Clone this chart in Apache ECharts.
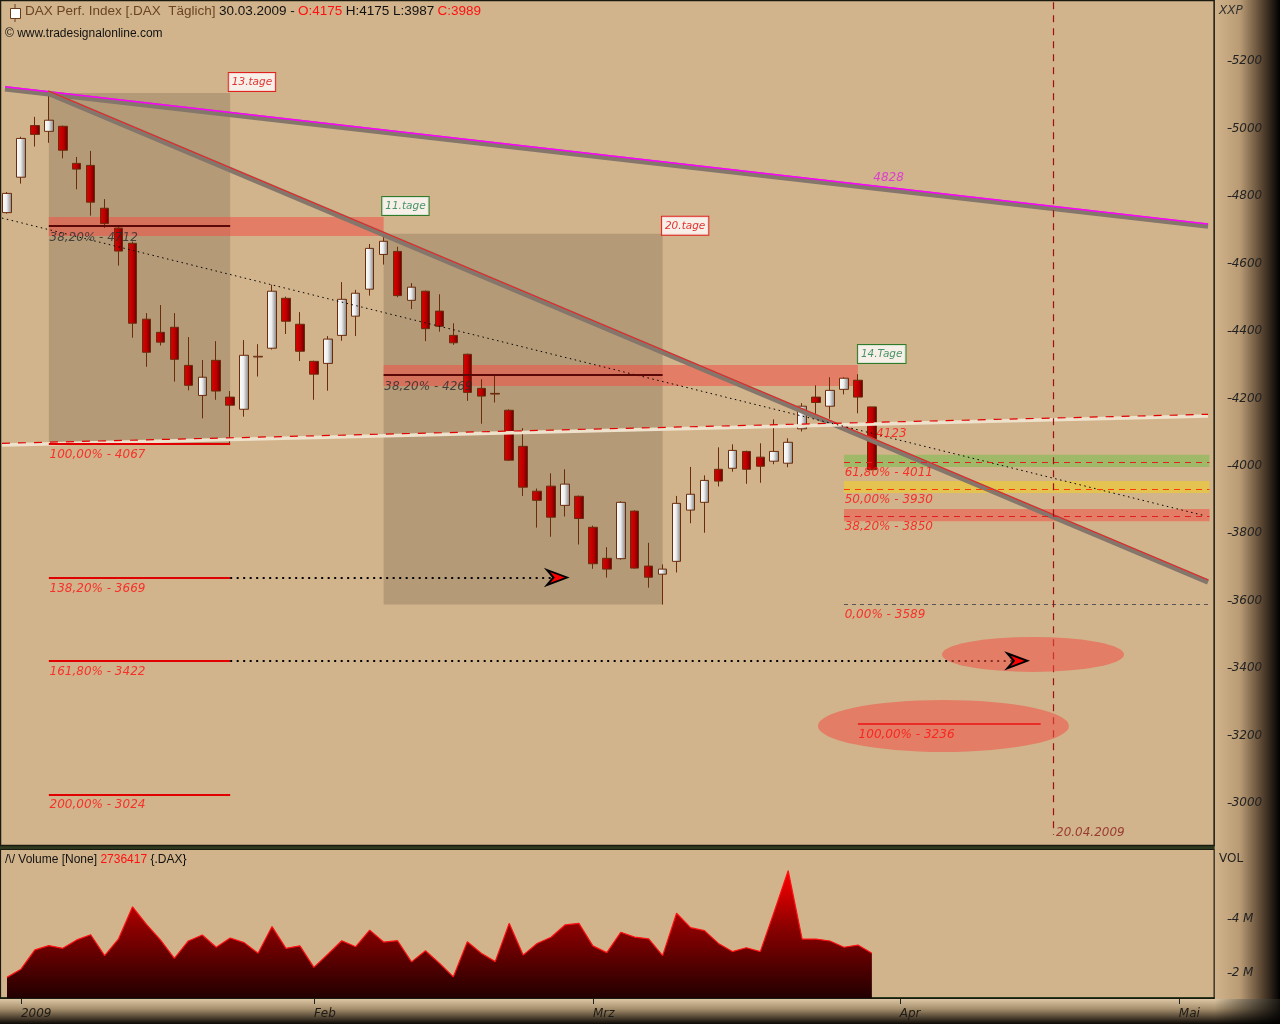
<!DOCTYPE html>
<html><head><meta charset="utf-8">
<script src="https://cdn.jsdelivr.net/npm/echarts@6/dist/echarts.min.js"></script>
<style>html,body{margin:0;padding:0;background:#D2B48C;}#c{width:1280px;height:1024px;}</style>
</head><body><div id="c"></div>
<script>
// ---------- DATA ----------
const dates = ['2008-12-30',
 '2009-01-02','2009-01-05','2009-01-06','2009-01-07','2009-01-08','2009-01-09','2009-01-12','2009-01-13','2009-01-14','2009-01-15','2009-01-16','2009-01-19','2009-01-20','2009-01-21','2009-01-22','2009-01-23','2009-01-26','2009-01-27','2009-01-28','2009-01-29','2009-01-30',
 '2009-02-02','2009-02-03','2009-02-04','2009-02-05','2009-02-06','2009-02-09','2009-02-10','2009-02-11','2009-02-12','2009-02-13','2009-02-16','2009-02-17','2009-02-18','2009-02-19','2009-02-20','2009-02-23','2009-02-24','2009-02-25','2009-02-26','2009-02-27',
 '2009-03-02','2009-03-03','2009-03-04','2009-03-05','2009-03-06','2009-03-09','2009-03-10','2009-03-11','2009-03-12','2009-03-13','2009-03-16','2009-03-17','2009-03-18','2009-03-19','2009-03-20','2009-03-23','2009-03-24','2009-03-25','2009-03-26','2009-03-27','2009-03-30','2009-03-31',
 '2009-04-01','2009-04-02','2009-04-03','2009-04-06','2009-04-07','2009-04-08','2009-04-09','2009-04-14','2009-04-15','2009-04-16','2009-04-17','2009-04-20','2009-04-21','2009-04-22','2009-04-23','2009-04-24','2009-04-27','2009-04-28','2009-04-29','2009-04-30',
 '2009-05-04','2009-05-05','2009-05-06'];

const opens  = [4751,4856,5009,4992,5007,4897,4891,4764,4705,4660,4435,4396,4411,4298,4209,4313,4204,4168,4323,4349,4497,4420,4310,4304,4387,4444,4524,4627,4636,4491,4518,4459,4387,4331,4230,4215,4165,4058,3925,3940,3883,3910,3818,3726,3725,3866,3703,3679,3717,3869,3892,3990,3993,4043,4026,4014,4008,4110,4204,4177,4227,4254,4175];
const closes = [4808,4971,4983,5025,4936,4880,4782,4719,4637,4423,4337,4367,4316,4239,4263,4222,4180,4328,4325,4518,4429,4340,4272,4376,4494,4512,4645,4666,4505,4530,4407,4414,4365,4218,4207,4213,4017,3937,3898,3848,3946,3844,3710,3694,3892,3697,3670,3694,3889,3916,3957,3955,4046,3990,3999,4043,4070,4177,4188,4224,4260,4204,3989];
const lows   = [4748,4837,4947,4958,4912,4820,4742,4706,4594,4380,4294,4357,4250,4224,4141,4196,4067,4146,4265,4345,4391,4311,4196,4223,4371,4385,4505,4597,4500,4465,4370,4398,4359,4193,4125,4188,4015,3911,3817,3790,3850,3767,3695,3669,3722,3695,3639,3589,3684,3830,3802,3939,3983,3947,3950,4005,3996,4102,4153,4140,4212,4156,3987];
const highs  = [4812,4976,5035,5108,5009,4916,4934,4791,4708,4665,4453,4477,4453,4382,4314,4370,4222,4373,4361,4537,4502,4456,4312,4385,4545,4522,4658,4690,4650,4542,4520,4509,4423,4333,4257,4270,4168,4112,3933,3978,3990,3912,3823,3759,3895,3868,3772,3708,3911,3997,3972,4055,4064,4045,4067,4138,4082,4186,4239,4263,4263,4272,4175];
// volume in millions
const volumes = [1.85,2.15,2.86,3.02,2.92,3.23,3.42,2.65,3.27,4.45,3.80,3.23,2.55,3.19,3.41,2.96,3.30,3.13,2.74,3.72,2.92,3.01,2.22,2.70,3.20,2.98,3.59,3.15,3.20,2.42,2.83,2.37,1.87,3.16,2.74,2.43,3.84,2.67,3.10,3.33,3.78,3.84,3.01,2.76,3.51,3.33,3.27,2.65,4.21,3.68,3.57,3.10,2.80,2.94,2.80,4.27,5.78,3.26,3.26,3.19,2.96,3.04,2.736417];

const priceTicks = [3000,3200,3400,3600,3800,4000,4200,4400,4600,4800,5000,5200];
const volTicks = [2,4];
const tickDates = ['2009-01-02','2009-02-02','2009-03-02','2009-04-01','2009-05-04'];
const tickLabels = ['2009','Feb','Mrz','Apr','Mai'];

// annotations (x = bar index, y = price)
const timeBoxes = [[3,16,5106,4067],[27,47,4688,3589]];
const redZones = [[3,27,4738,4682],[27,61,4299,4237]];
const retraceZones = [[60,86.2,4033,3997,'green'],[60,86.2,3955,3920,'yellow'],[60,86.2,3872,3836,'red']];
const trendLines = [
  {a:[-0.14,5118], b:[86.1,4711], k:'upper'},
  {a:[2.94,5106],  b:[86.1,3656], k:'down'},
  {a:[-0.36,4062], b:[86.1,4148], k:'lower'},
  {a:[-0.36,4735], b:[85.9,3852], k:'dotted'}
];
const fibLines = [
  {a:[3,4712], b:[16,4712], k:'dark'},
  {a:[27,4269], b:[47,4269], k:'dark'},
  {a:[3,4067], b:[16,4067], k:'fib'},
  {a:[3,3669], b:[16,3669], k:'fib'},
  {a:[3,3422], b:[16,3422], k:'fib'},
  {a:[3,3024], b:[16,3024], k:'fib'},
  {a:[61,3236], b:[74.1,3236], k:'fib'},
  {a:[60,4011], b:[86.2,4011], k:'zdash'},
  {a:[60,3930], b:[86.2,3930], k:'odash'},
  {a:[60,3850], b:[86.2,3850], k:'zdash'},
  {a:[60,3589], b:[86.2,3589], k:'gdash'},
  {a:[75,5375], b:[75,2906], k:'vert'},
  {a:[16,3669], b:[39.6,3669], k:'arrow'},
  {a:[16,3422], b:[72.6,3422], k:'arrow'}
];
const arrowTips = [[40.15,3669],[73.15,3422]];
const ellipses = [[73.55,3441,182,35],[67.13,3229,251,52]];
const annotations = [
  ['13.tage',15.9,5138,'tagRed'],['11.tage',26.9,4771,'tagGreen'],['20.tage',46.95,4712,'tagRed'],['14.Tage',61,4332,'tagGreen'],
  ['38,20% - 4712',3.05,4676,'dark'],['100,00% - 4067',3.05,4033,'red'],['138,20% - 3669',3.05,3636,'red'],
  ['161,80% - 3422',3.05,3390,'red'],['200,00% - 3024',3.05,2996,'red'],['38,20% - 4269',27.05,4234,'dark'],
  ['4123',62.3,4095,'red'],['61,80% - 4011',60.05,3979,'red'],['50,00% - 3930',60.05,3899,'red'],
  ['38,20% - 3850',60.05,3819,'red'],['0,00% - 3589',60.05,3558,'red'],['100,00% - 3236',61.05,3202,'red'],
  ['4828',62.1,4854,'magenta'],['20.04.2009',75.2,2912,'darkred']
];

// ---------- BUILD ----------
const LG = (x2,y2,stops)=>new echarts.graphic.LinearGradient(0,0,x2,y2,stops.map(c=>({offset:c[0],color:c[1]})));
const FONT = '"DejaVu Sans", sans-serif';
const W = 1213.65;

const candleData = opens.map((o,i)=>[o,closes[i],lows[i],highs[i]]);

const lineStyles = {
  upper:[{color:'#84766a',width:5.5},{color:'#ff00ff',width:1.5,off:6}],
  down:[{color:'#84766a',width:5.5},{color:'#ff1a1a',width:1,off:6}],
  lower:[{color:'#eee2cc',width:3.5},{color:'#e00000',width:1.2,type:[8,8],off:5}],
  dotted:[{color:'#000',width:1,type:[1.5,3.5]}],
  dark:[{color:'#5a0808',width:2}],
  fib:[{color:'#e00000',width:2}],
  zdash:[{color:'#e02020',width:1,type:[6,5]}],
  odash:[{color:'#ff3c00',width:1,type:[6,5]}],
  gdash:[{color:'#555',width:1,type:[4,4]}],
  vert:[{color:'#a01010',width:1.2,type:[7,6]}],
  arrow:[{color:'#000',width:2.2,type:[2,4.5]}]
};
const markLineData = [];
trendLines.concat(fibLines).forEach(l=>{
  lineStyles[l.k].forEach(s=>{
    const off = s.off||0;
    markLineData.push([
      {coord:[l.a[0], l.a[1]+off], lineStyle:{color:s.color,width:s.width,type:s.type||'solid'}},
      {coord:[l.b[0], l.b[1]+off]}
    ]);
  });
});

const zoneColors = {green:'rgba(100,190,60,0.45)', yellow:'rgba(240,205,40,0.6)', red:'rgba(240,80,70,0.55)'};

const labelStyles = {
  tagRed:{color:'#e00000',backgroundColor:'#fff',borderColor:'#e00000',borderWidth:1,padding:[4,3,3,3],fontSize:10.5},
  tagGreen:{color:'#1f7a4a',backgroundColor:'#fff',borderColor:'#0a6a10',borderWidth:1,padding:[4,3,3,3],fontSize:10.5},
  dark:{color:'#2a2a2a',fontSize:12},
  red:{color:'#ff1010',fontSize:12},
  magenta:{color:'#e020e0',fontSize:12},
  darkred:{color:'#8b1a1a',fontSize:12}
};

const tickFn = (i, v) => tickDates.indexOf(v) >= 0;

const option = {
  animation:false,
  backgroundColor:'#D2B48C',
  grid:[{left:0,top:2,width:W,height:843},{left:0,top:849,width:W,height:149}],
  xAxis:[
    {type:'category',gridIndex:0,data:dates,show:false,boundaryGap:true,axisLine:{onZero:false}},
    {type:'value',gridIndex:0,min:-0.5,max:86.5,show:false,axisLine:{onZero:false}},
    {type:'category',gridIndex:1,data:dates,boundaryGap:true,
      axisLine:{show:true,onZero:false,lineStyle:{color:'#2c3a1c',width:2}},
      axisTick:{show:true,interval:tickFn,alignWithLabel:true,length:6,lineStyle:{color:'#222'}},
      axisLabel:{interval:tickFn,formatter:v=>tickLabels[tickDates.indexOf(v)],align:'left',color:'#1e1a14',fontStyle:'italic',fontFamily:FONT,fontSize:12,margin:10},
      splitLine:{show:false}}
  ],
  yAxis:[
    {type:'value',gridIndex:0,position:'right',min:2876,max:5375.5,offset:14,
      axisLine:{show:false,onZero:false},splitLine:{show:false},
      axisTick:{show:true,length:4,customValues:priceTicks,lineStyle:{color:'#222'}},
      axisLabel:{customValues:priceTicks,formatter:v=>String(v),color:'#222',fontStyle:'italic',fontFamily:FONT,fontSize:12,margin:4}},
    {type:'value',gridIndex:1,position:'right',min:1.09,max:6.578,offset:14,
      axisLine:{show:false,onZero:false},splitLine:{show:false},
      axisTick:{show:true,length:4,customValues:volTicks,lineStyle:{color:'#222'}},
      axisLabel:{customValues:volTicks,formatter:v=>v+' M',color:'#222',fontStyle:'italic',fontFamily:FONT,fontSize:12,margin:4}}
  ],
  series:[
    {type:'line',name:'boxes',xAxisIndex:1,yAxisIndex:0,data:[],z:1,silent:true,
      markArea:{silent:true,itemStyle:{color:'rgba(115,95,75,0.3)'},
        data:timeBoxes.map(b=>[{coord:[b[0],b[2]]},{coord:[b[1],b[3]]}])}},
    {type:'candlestick',name:'DAX',xAxisIndex:0,yAxisIndex:0,data:candleData,z:2,barWidth:9,
      itemStyle:{
        color:LG(1,0,[[0,'#ffffff'],[0.45,'#eeeeee'],[1,'#7c7c7c']]),
        color0:LG(1,0,[[0,'#e00000'],[0.55,'#b80000'],[1,'#5e0000']]),
        borderColor:'#6b2c0c',borderColor0:'#6b2c0c',borderWidth:1}},
    {type:'line',name:'zones',xAxisIndex:1,yAxisIndex:0,data:[],z:3,silent:true,
      markArea:{silent:true,
        data:redZones.map(z=>[{coord:[z[0],z[2]],itemStyle:{color:zoneColors.red}},{coord:[z[1],z[3]]}])
          .concat(retraceZones.map(z=>[{coord:[z[0],z[2]],itemStyle:{color:zoneColors[z[4]]}},{coord:[z[1],z[3]]}]))},
      markPoint:{silent:true,symbol:'circle',label:{show:false},
        data:ellipses.map(e=>({coord:[e[0],e[1]],symbolSize:[e[2],e[3]],itemStyle:{color:zoneColors.red}}))}},
    {type:'line',name:'lines',xAxisIndex:1,yAxisIndex:0,data:[],z:4,silent:true,
      markLine:{silent:true,symbol:['none','none'],label:{show:false},emphasis:{disabled:true},data:markLineData},
      markPoint:{silent:true,label:{show:false},symbol:'path://M0,0 L22,8 L0,16 L7,8 Z',symbolSize:[20,15],symbolOffset:[-10,0],
        itemStyle:{color:'#ff0000',borderColor:'#000',borderWidth:2},
        data:arrowTips.map(t=>({coord:t}))}},
    {type:'scatter',name:'labels',xAxisIndex:1,yAxisIndex:0,z:5,silent:true,symbolSize:0,
      data:annotations.map(a=>({value:[a[1],a[2]],
        label:Object.assign({show:true,formatter:a[0],position:[0,0],align:'left',verticalAlign:'middle',fontStyle:'italic',fontFamily:FONT},labelStyles[a[3]])}))},
    {type:'line',name:'Volume',xAxisIndex:2,yAxisIndex:1,data:volumes,symbol:'none',z:2,
      lineStyle:{color:'#ff1010',width:1.2},
      areaStyle:{origin:'start',opacity:1,color:LG(0,1,[[0,'#ff0000'],[0.45,'#8a0000'],[1,'#220000']])}}
  ],
  graphic:[
    {type:'rect',z:-5,shape:{x:W,y:0,width:1280-W,height:1000},style:{fill:LG(1,0,[[0,'#d2b48c'],[0.4,'#b89a74'],[0.72,'#5a4632'],[1,'#000000']])}},
    {type:'rect',z:-5,shape:{x:0,y:999,width:1280,height:25},style:{fill:LG(0,1,[[0,'#dcc6a4'],[0.4,'#a58e6c'],[1,'#0c0804']])}},
    {type:'rect',z:-4,shape:{x:W+1,y:999,width:1280-W,height:25},style:{fill:LG(1,0,[[0,'rgba(0,0,0,0)'],[1,'rgba(0,0,0,0.9)']])}},
    {type:'rect',z:-3,shape:{x:0,y:845,width:W+1,height:4},style:{fill:'#2e3a1e'}},
    {type:'rect',z:10,shape:{x:0.5,y:0.5,width:W,height:845},style:{fill:'none',stroke:'#1a1a10',lineWidth:1.5}},
    {type:'rect',z:10,shape:{x:0.5,y:849.5,width:W,height:149},style:{fill:'none',stroke:'#1a1a10',lineWidth:1.2}},
    // header icon
    {type:'line',z:10,shape:{x1:15,y1:4,x2:15,y2:22},style:{stroke:'#6b3a1a',lineWidth:1}},
    {type:'rect',z:11,shape:{x:10.5,y:8.5,width:10,height:10},style:{fill:'#fff',stroke:'#6b3a1a',lineWidth:1}},
    {type:'text',z:10,left:25,top:4,style:{
      text:'{a|DAX Perf. Index [.DAX  Täglich]} {b|30.03.2009 -} {r|O:4175} {b|H:4175 L:3987} {r|C:3989}',
      rich:{a:{fill:'#6b4423',fontSize:13.5,fontFamily:'"Liberation Sans", sans-serif'},
            b:{fill:'#111',fontSize:13.5,fontFamily:'"Liberation Sans", sans-serif'},
            r:{fill:'#ff1010',fontSize:13.5,fontFamily:'"Liberation Sans", sans-serif'}}}},
    {type:'text',z:10,left:5,top:28,style:{text:'© www.tradesignalonline.com',fill:'#111',fontSize:12,fontFamily:'"Liberation Sans", sans-serif'}},
    {type:'text',z:10,left:5,top:854,style:{
      text:'{b|/\\/ Volume [None]} {r|2736417} {b|{.DAX}}',
      rich:{b:{fill:'#111',fontSize:12,fontFamily:'"Liberation Sans", sans-serif'},
            r:{fill:'#ff1010',fontSize:12,fontFamily:'"Liberation Sans", sans-serif'}}}},
    {type:'text',z:10,left:1219,top:5,style:{text:'XXP',fill:'#333',fontSize:12,fontStyle:'italic',fontFamily:FONT}},
    {type:'text',z:10,left:1219,top:853,style:{text:'VOL',fill:'#222',fontSize:12,fontFamily:FONT}}
  ]
};
const chart = echarts.init(document.getElementById('c'));
chart.setOption(option);
</script></body></html>
